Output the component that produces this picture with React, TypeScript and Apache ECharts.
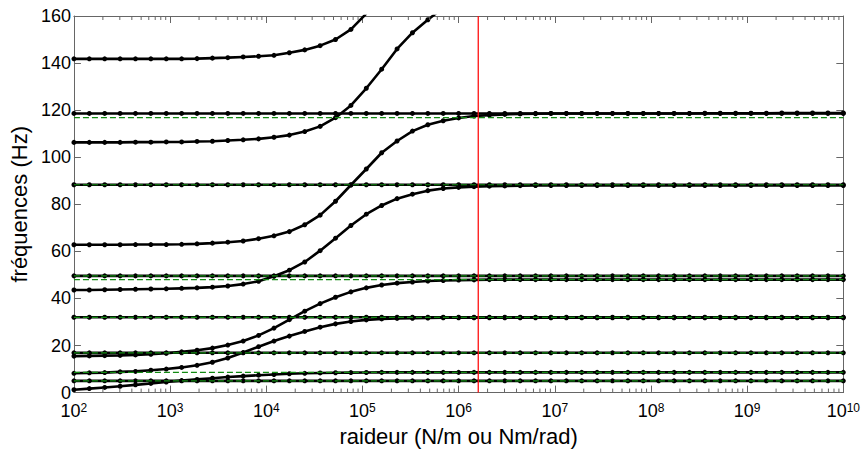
import React, { useEffect, useRef } from 'react';
import * as echarts from 'echarts';

// stiffness sampling grid (log10 of N/m or Nm/rad)
const exponents = [
  2.00, 2.16, 2.32, 2.48, 2.64, 2.80, 2.96, 3.12, 3.28, 3.44,
  3.60, 3.76, 3.92, 4.08, 4.24, 4.40, 4.56, 4.72, 4.88, 5.04,
  5.20, 5.36, 5.52, 5.68, 5.84, 6.00, 6.16, 6.32, 6.48, 6.64,
  6.80, 6.96, 7.12, 7.28, 7.44, 7.60, 7.76, 7.92, 8.08, 8.24,
  8.40, 8.56, 8.72, 8.88, 9.04, 9.20, 9.36, 9.52, 9.68, 9.84,
  10.00,
];

// modes that change with stiffness (Hz)
const mode1 = [
  1.2, 1.7, 2.2, 2.7, 3.3, 3.9, 4.5, 5.1, 5.6, 6.1,
  6.6, 7.0, 7.4, 7.7, 8.0, 8.2, 8.35, 8.45, 8.5, 8.55,
  8.6, 8.6, 8.6, 8.6, 8.6, 8.6, 8.6, 8.6, 8.6, 8.6,
  8.6, 8.6, 8.6, 8.6, 8.6, 8.6, 8.6, 8.6, 8.6, 8.6,
  8.6, 8.6, 8.6, 8.6, 8.6, 8.6, 8.6, 8.6, 8.6, 8.6,
  8.6,
];
const mode2 = [
  8.2, 8.4, 8.5, 8.8, 9.0, 9.5, 10.0, 10.7, 11.6, 12.9,
  14.7, 17.0, 19.5, 21.9, 24.0, 26.0, 27.8, 29.2, 30.2, 30.9,
  31.3, 31.5, 31.6, 31.7, 31.8, 31.8, 31.8, 31.8, 31.8, 31.8,
  31.8, 31.8, 31.8, 31.8, 31.8, 31.8, 31.8, 31.8, 31.8, 31.8,
  31.8, 31.8, 31.8, 31.8, 31.8, 31.8, 31.8, 31.8, 31.8, 31.8,
  31.8,
];
const mode3 = [
  15.5, 15.6, 15.7, 15.8, 16.0, 16.3, 16.7, 17.3, 18.0, 18.9,
  20.2, 21.9, 24.3, 27.4, 31.0, 34.6, 37.8, 40.5, 42.8, 44.5,
  45.7, 46.5, 47.0, 47.4, 47.6, 47.8, 47.9, 48.0, 48.0, 48.0,
  48.0, 48.0, 48.0, 48.0, 48.0, 48.0, 48.0, 48.0, 48.0, 48.0,
  48.0, 48.0, 48.0, 48.0, 48.0, 48.0, 48.0, 48.0, 48.0, 48.0,
  48.0,
];
const mode4 = [
  43.6, 43.6, 43.7, 43.8, 43.9, 44.0, 44.1, 44.3, 44.5, 44.8,
  45.3, 46.1, 47.3, 49.4, 52.0, 55.5, 60.3, 65.6, 71.0, 75.8,
  79.5, 82.4, 84.3, 85.8, 86.7, 87.2, 87.5, 87.7, 87.8, 87.9,
  88.0, 88.0, 88.0, 88.0, 88.0, 88.0, 88.0, 88.0, 88.0, 88.0,
  88.0, 88.0, 88.0, 88.0, 88.0, 88.0, 88.0, 88.0, 88.0, 88.0,
  88.0,
];
const mode5 = [
  62.8, 62.8, 62.8, 62.8, 62.9, 62.9, 62.9, 63.0, 63.2, 63.5,
  63.9, 64.4, 65.4, 66.6, 68.4, 71.3, 75.4, 81.3, 88.2, 95.0,
  101.9, 106.9, 111.1, 113.8, 115.5, 116.7, 117.5, 117.9, 118.2, 118.4,
  118.5, 118.6, 118.6, 118.6, 118.6, 118.6, 118.6, 118.6, 118.6, 118.6,
  118.6, 118.7, 118.7, 118.7, 118.7, 118.7, 118.8, 118.8, 118.8, 118.8,
  118.8,
];
const mode6 = [
  106.3, 106.3, 106.3, 106.3, 106.4, 106.4, 106.5, 106.5, 106.7, 106.8,
  107.1, 107.4, 107.8, 108.5, 109.4, 110.9, 113.1, 116.8, 122.0, 129.3,
  137.4, 146.0, 152.9, 158.4, 163.5,
];
const mode7 = [
  141.8, 141.8, 141.8, 141.8, 141.8, 141.8, 141.8, 141.8, 141.9, 142.1,
  142.3, 142.6, 142.9, 143.3, 144.4, 145.6, 147.4, 150.0, 154.3, 161.0,
];

// modes unaffected by the stiffness (Hz)
const flatModes = [5.0, 16.9, 32.0, 49.6, 88.3, 118.6];

// limit (clamped) frequencies, green dashed (Hz)
const limitFreqs = [5.0, 8.6, 16.9, 32.0, 48.0, 49.6, 88.3, 116.8];

// selected stiffness (red vertical line)
const selectedStiffness = 1.6e6;

// axis ranges and ticks
const xMin = 1e2;
const xMax = 1e10;
const yMin = 0;
const yMax = 160;
const yStep = 20;
const tickDecades = [2, 3, 4, 5, 6, 7, 8, 9];
const minorMultipliers = [2, 3, 4, 5, 6, 7, 8, 9];

const FONT = "'Liberation Sans', Arial, Helvetica, sans-serif";
const AXIS_COLOR = '#666666';

export default function App() {
  const ref = useRef<HTMLDivElement>(null);

  useEffect(() => {
    if (!ref.current) return;
    const chart = echarts.init(ref.current, undefined, { renderer: 'svg' });

    const toPairs = (vals: number[]) => vals.map((v, i) => [Math.pow(10, exponents[i]), v]);

    const curveSeries = [mode1, mode2, mode3, mode4, mode5, mode6, mode7].map((vals, i) => ({
      name: 'mode' + (i + 1),
      type: 'line',
      data: toPairs(vals),
      symbol: 'circle',
      symbolSize: 5,
      showSymbol: true,
      clip: true,
      lineStyle: { color: '#000', width: 2.6 },
      itemStyle: { color: '#000' },
      z: 2,
    }));

    const flatSeries = flatModes.map((v, i) => ({
      name: 'flat' + i,
      type: 'line',
      data: exponents.map((e) => [Math.pow(10, e), v]),
      symbol: 'circle',
      symbolSize: 5,
      clip: true,
      lineStyle: { color: '#000', width: 2.6 },
      itemStyle: { color: '#000' },
      z: 2,
    }));

    const limitSeries = limitFreqs.map((v, i) => ({
      name: 'limit' + i,
      type: 'line',
      data: [[xMin, v], [xMax, v]],
      symbol: 'none',
      lineStyle: { color: '#138a13', width: 1.2, type: [6, 3] },
      z: 3,
    }));

    const minorTicks: number[] = [];
    tickDecades.forEach((d) => minorMultipliers.forEach((m) => minorTicks.push(m * Math.pow(10, d))));

    const minorTickSeries = {
      type: 'custom',
      data: minorTicks.map((x) => [x, yMin]),
      encode: { x: 0, y: 1 },
      silent: true,
      z: 5,
      renderItem: (params: any, api: any) => {
        const x = api.value(0);
        const b = api.coord([x, yMin]);
        const t = api.coord([x, yMax]);
        const style = { stroke: AXIS_COLOR, lineWidth: 1 };
        return {
          type: 'group',
          children: [
            { type: 'line', shape: { x1: b[0], y1: b[1], x2: b[0], y2: b[1] - 4 }, style },
            { type: 'line', shape: { x1: t[0], y1: t[1], x2: t[0], y2: t[1] + 4 }, style },
          ],
        };
      },
    };

    const redSeries = {
      type: 'line',
      data: [[selectedStiffness, yMin], [selectedStiffness, yMax]],
      symbol: 'none',
      lineStyle: { color: '#ff1010', width: 1.3 },
      z: 4,
    };

    const xAxisBase = {
      type: 'log',
      logBase: 10,
      min: xMin,
      max: xMax,
      splitLine: { show: false },
      axisLine: { show: true, onZero: false, lineStyle: { color: AXIS_COLOR, width: 1 } },
      axisTick: { show: true, inside: true, length: 7, lineStyle: { color: AXIS_COLOR } },
    };
    const yAxisBase = {
      type: 'value',
      min: yMin,
      max: yMax,
      interval: yStep,
      splitLine: { show: false },
      axisLine: { show: true, onZero: false, lineStyle: { color: AXIS_COLOR, width: 1 } },
      axisTick: { show: true, inside: true, length: 7, lineStyle: { color: AXIS_COLOR } },
    };

    chart.setOption({
      animation: false,
      backgroundColor: '#ffffff',
      grid: { left: 70, right: 18, top: 16, bottom: 47, containLabel: false },
      xAxis: [
        {
          ...xAxisBase,
          position: 'bottom',
          name: 'raideur (N/m ou Nm/rad)',
          nameLocation: 'middle',
          nameGap: 24,
          nameTextStyle: { fontSize: 22, fontFamily: FONT, color: '#000' },
          axisLabel: {
            show: true,
            margin: 9,
            formatter: (v: number) => `{b|10}{s|${Math.round(Math.log10(v))}}`,
            rich: {
              b: { fontSize: 18, fontFamily: FONT, color: '#000', lineHeight: 19 },
              s: { fontSize: 12, fontFamily: FONT, color: '#000', lineHeight: 12, verticalAlign: 'top' },
            },
          },
        },
        { ...xAxisBase, position: 'top', axisLabel: { show: false } },
      ],
      yAxis: [
        {
          ...yAxisBase,
          position: 'left',
          name: 'fréquences (Hz)',
          nameLocation: 'middle',
          nameGap: 38,
          nameRotate: 90,
          nameTextStyle: { fontSize: 22, fontFamily: FONT, color: '#000' },
          axisLabel: { show: true, fontSize: 18, lineHeight: 14, fontFamily: FONT, color: '#000', margin: 3 },
        },
        { ...yAxisBase, position: 'right', axisLabel: { show: false } },
      ],
      series: [...curveSeries, ...flatSeries, ...limitSeries, redSeries, minorTickSeries],
    } as any);

    return () => chart.dispose();
  }, []);

  return (
    <div
      ref={ref}
      style={{ position: 'fixed', left: 0, top: 0, width: 863, height: 452, background: '#fff' }}
    />
  );
}
